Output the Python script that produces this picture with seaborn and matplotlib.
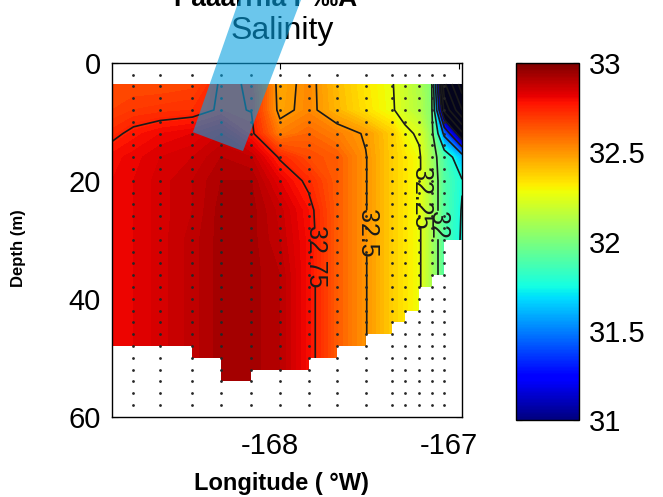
import numpy as np
import pandas as pd
import matplotlib
matplotlib.use("Agg")
import matplotlib.pyplot as plt
import seaborn as sns
from matplotlib.colors import Normalize
from matplotlib.cm import ScalarMappable
from matplotlib.patches import Polygon
from matplotlib.transforms import ScaledTranslation

# grid columns (deg E); first and last are the edges of the section
grid_lon = [-168.94, -168.82, -168.67, -168.49, -168.33, -168.16, -168.00, -167.84,
            -167.68, -167.52, -167.37, -167.30, -167.22, -167.15, -167.08, -166.98]
grid_depth = [3.6, 8, 12, 16, 20, 25, 30, 36, 42, 48, 54]

# salinity profile per column, top to bottom
salinity_profiles = [
    [32.66, 32.68, 32.73, 32.79, 32.80, 32.80, 32.80, 32.80, 32.80, 32.80, 32.80],
    [32.66, 32.70, 32.77, 32.81, 32.82, 32.82, 32.82, 32.82, 32.82, 32.82, 32.82],
    [32.66, 32.71, 32.80, 32.84, 32.85, 32.85, 32.85, 32.85, 32.85, 32.85, 32.85],
    [32.67, 32.72, 32.82, 32.86, 32.88, 32.88, 32.89, 32.89, 32.89, 32.89, 32.89],
    [32.76, 32.76, 32.86, 32.90, 32.92, 32.93, 32.93, 32.93, 32.93, 32.93, 32.93],
    [32.745, 32.748, 32.77, 32.88, 32.92, 32.93, 32.93, 32.93, 32.93, 32.93, 32.93],
    [32.46, 32.47, 32.55, 32.74, 32.82, 32.87, 32.88, 32.90, 32.90, 32.90, 32.90],
    [32.53, 32.53, 32.60, 32.66, 32.73, 32.78, 32.79, 32.79, 32.79, 32.79, 32.79],
    [32.42, 32.43, 32.55, 32.62, 32.62, 32.62, 32.62, 32.62, 32.62, 32.62, 32.62],
    [32.33, 32.34, 32.49, 32.505, 32.505, 32.505, 32.505, 32.505, 32.505, 32.505, 32.505],
    [32.255, 32.26, 32.38, 32.38, 32.38, 32.38, 32.38, 32.38, 32.38, 32.38, 32.38],
    [32.19, 32.20, 32.28, 32.33, 32.33, 32.33, 32.33, 32.33, 32.33, 32.33, 32.33],
    [32.12, 32.13, 32.23, 32.27, 32.27, 32.27, 32.27, 32.27, 32.27, 32.27, 32.27],
    [32.005, 32.02, 32.05, 32.08, 32.10, 32.10, 32.10, 32.10, 32.10, 32.10, 32.10],
    [30.30, 30.70, 31.45, 31.88, 31.90, 31.90, 31.90, 31.90, 31.90, 31.90, 31.90],
    [29.60, 30.00, 30.80, 31.60, 31.76, 31.74, 31.73, 31.73, 31.73, 31.73, 31.73],
]

# deepest valid data between neighbouring columns (m)
bottom_depth = [48, 48, 48, 50, 54, 52, 52, 50, 48, 46, 44, 42, 38, 36, 30]

# CTD sampling marks
station_lon = grid_lon[1:-1]
sample_depth = list(range(2, 60, 2))

line_levels = [29.75, 30, 30.25, 30.5, 30.75, 31, 31.25, 31.5, 31.75]
label_levels = [32, 32.25, 32.5, 32.75]
label_pos = [(-167.143, 27.5), (-167.199, 23.0), (-167.512, 28.9), (-167.831, 33.0)]
cbar_ticks = [31, 31.5, 32, 32.5, 33]

sns.set_theme(style="ticks", rc={"axes.edgecolor": "black", "xtick.color": "black",
                                 "ytick.color": "black", "text.color": "black",
                                 "axes.labelcolor": "black"})
plt.rcParams["font.family"] = ["Liberation Sans", "DejaVu Sans"]
plt.rcParams["axes.unicode_minus"] = False

LON, DEP = np.meshgrid(grid_lon, grid_depth)
Z = np.array(salinity_profiles).T
norm = Normalize(31, 33)
cmap = plt.get_cmap("jet").with_extremes(under="#04041c")

fig = plt.figure(figsize=(6.63, 4.97), dpi=100)
ax = fig.add_axes([0.169, 0.1616, 0.528, 0.712])

ax.contourf(LON, DEP, Z, levels=np.arange(29.4, 33.21, 0.02), cmap=cmap, norm=norm,
            zorder=1, antialiased=False)
ax.contour(LON, DEP, Z, levels=line_levels, colors="k", linewidths=1.2, zorder=1.2)
cs = ax.contour(LON, DEP, Z, levels=label_levels, colors="k", linewidths=1.2, zorder=1.2)
ax.clabel(cs, manual=label_pos, fmt="%g", fontsize=18, inline=True, inline_spacing=3)
for t in cs.labelTexts:
    t.set_rotation(270)

# mask below the sea floor
ax.fill_between(grid_lon, bottom_depth + [bottom_depth[-1]], 60, step="post",
                color="white", linewidth=0, zorder=1.5)

lon_g, dep_g = np.meshgrid(station_lon, sample_depth)
dots = pd.DataFrame({"lon": lon_g.ravel(), "depth": dep_g.ravel()})
sns.scatterplot(data=dots, x="lon", y="depth", ax=ax, color="0.15", s=4,
                linewidth=0, legend=False, zorder=2)

ax.set_xlim(-168.94, -166.98)
ax.set_ylim(60, 0)
ax.set_xticks([-168, -167])
ax.set_yticks([0, 20, 40, 60])
ax.tick_params(direction="in", top=True, right=True, labelsize=21, length=4, width=0.8)
ax.tick_params(axis="x", pad=11)
ax.tick_params(axis="y", pad=8)
shift = ScaledTranslation(-10 / 100, 0, fig.dpi_scale_trans)
for lab in ax.get_xticklabels():
    lab.set_transform(lab.get_transform() + shift)
for s in ax.spines.values():
    s.set_linewidth(1.0)

ax.set_xlabel("Longitude ( °W)", fontsize=17, fontweight="bold")
ax.xaxis.set_label_coords(0.483, -0.155)
ax.set_ylabel("Depth (m)", fontsize=12, fontweight="bold")
ax.yaxis.set_label_coords(-0.245, 0.476)

fig.text(0.425, 0.922, "Salinity", fontsize=23, ha="center", va="baseline")
fig.text(0.40, 0.988, "Раааітна г ‰А", fontsize=19, fontweight="bold",
         ha="center", va="baseline")

cax = fig.add_axes([0.778, 0.155, 0.096, 0.718])
cb = fig.colorbar(ScalarMappable(norm=norm, cmap="jet"), cax=cax, ticks=cbar_ticks)
cb.ax.set_yticklabels([f"{t:g}" for t in cbar_ticks])
cb.ax.tick_params(direction="in", labelsize=21, length=4, width=0.8, pad=7,
                  left=True, right=True)
cb.outline.set_linewidth(1.0)

# translucent blue stripe laid over the picture
stripe = Polygon([(0.3605, 1.0), (0.454, 1.0), (0.3665, 0.696), (0.291, 0.734)],
                 closed=True, transform=fig.transFigure, facecolor="#08A1E0",
                 alpha=0.6, edgecolor="none", zorder=10)
fig.patches.append(stripe)

fig.savefig("out.png", dpi=100)
